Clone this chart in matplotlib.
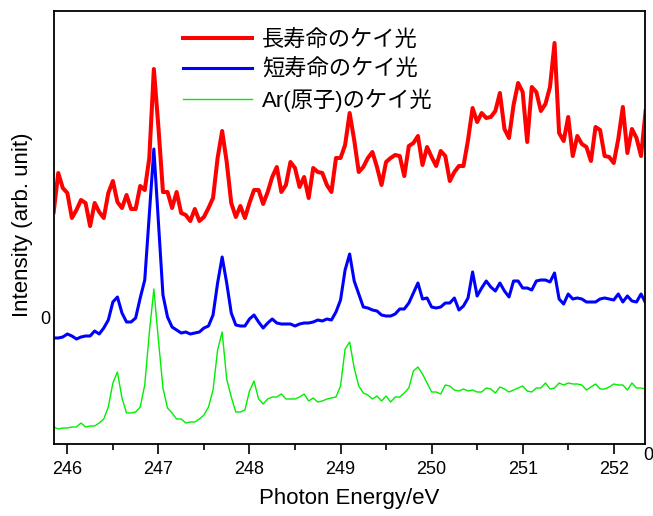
import matplotlib

matplotlib.use("Agg")

import matplotlib.pyplot as plt
from matplotlib.ticker import MultipleLocator

plt.rcParams["font.family"] = ["Liberation Sans", "Noto Sans CJK JP"]

# photon energy (eV), one sample every 0.05 eV
energy = [
    245.85, 245.90, 245.95, 246.00, 246.05, 246.10, 246.15, 246.20, 246.25, 246.30,
    246.35, 246.40, 246.45, 246.50, 246.55, 246.60, 246.65, 246.70, 246.75, 246.80,
    246.85, 246.90, 246.95, 247.00, 247.05, 247.10, 247.15, 247.20, 247.25, 247.30,
    247.35, 247.40, 247.45, 247.50, 247.55, 247.60, 247.65, 247.70, 247.75, 247.80,
    247.85, 247.90, 247.95, 248.00, 248.05, 248.10, 248.15, 248.20, 248.25, 248.30,
    248.35, 248.40, 248.45, 248.50, 248.55, 248.60, 248.65, 248.70, 248.75, 248.80,
    248.85, 248.90, 248.95, 249.00, 249.05, 249.10, 249.15, 249.20, 249.25, 249.30,
    249.35, 249.40, 249.45, 249.50, 249.55, 249.60, 249.65, 249.70, 249.75, 249.80,
    249.85, 249.90, 249.95, 250.00, 250.05, 250.10, 250.15, 250.20, 250.25, 250.30,
    250.35, 250.40, 250.45, 250.50, 250.55, 250.60, 250.65, 250.70, 250.75, 250.80,
    250.85, 250.90, 250.95, 251.00, 251.05, 251.10, 251.15, 251.20, 251.25, 251.30,
    251.35, 251.40, 251.45, 251.50, 251.55, 251.60, 251.65, 251.70, 251.75, 251.80,
    251.85, 251.90, 251.95, 252.00, 252.05, 252.10, 252.15, 252.20, 252.25, 252.30,
    252.35,
]

# intensities (arb. unit), curves are offset vertically as in the figure
long_lived = [
    1.06, 1.45, 1.30, 1.25, 1.00, 1.08, 1.18, 1.15, 0.92, 1.15,
    1.06, 1.00, 1.25, 1.37, 1.16, 1.10, 1.23, 1.09, 1.09, 1.32,
    1.28, 1.60, 2.49, 1.91, 1.26, 1.26, 1.10, 1.26, 1.05, 1.03,
    0.97, 1.09, 0.97, 1.01, 1.10, 1.20, 1.60, 1.87, 1.56, 1.15,
    1.01, 1.12, 1.00, 1.15, 1.28, 1.28, 1.14, 1.26, 1.41, 1.51,
    1.26, 1.33, 1.56, 1.50, 1.31, 1.41, 1.20, 1.50, 1.46, 1.45,
    1.33, 1.26, 1.60, 1.60, 1.73, 2.05, 1.78, 1.46, 1.51, 1.60,
    1.66, 1.51, 1.33, 1.56, 1.60, 1.63, 1.62, 1.42, 1.72, 1.75,
    1.82, 1.53, 1.71, 1.61, 1.52, 1.67, 1.62, 1.37, 1.46, 1.52,
    1.52, 1.78, 2.10, 1.96, 2.05, 2.00, 2.01, 2.07, 2.25, 1.89,
    1.80, 2.13, 2.35, 2.26, 1.76, 2.31, 2.26, 2.07, 2.14, 2.31,
    2.75, 1.85, 1.77, 2.01, 1.62, 1.82, 1.74, 1.71, 1.57, 1.91,
    1.88, 1.62, 1.61, 1.55, 1.79, 2.11, 1.65, 1.89, 1.80, 1.62,
    2.07,
]

short_lived = [
    -0.20, -0.20, -0.19, -0.16, -0.18, -0.21, -0.19, -0.18, -0.18, -0.13,
    -0.16, -0.10, -0.02, 0.16, 0.21, 0.05, -0.04, -0.04, 0.00, 0.20,
    0.38, 1.03, 1.69, 0.96, 0.23, 0.01, -0.09, -0.12, -0.15, -0.14,
    -0.16, -0.15, -0.14, -0.10, -0.08, 0.03, 0.35, 0.61, 0.35, 0.05,
    -0.07, -0.08, -0.08, -0.01, 0.03, -0.04, -0.10, -0.05, -0.01, -0.05,
    -0.06, -0.06, -0.06, -0.08, -0.06, -0.05, -0.05, -0.04, -0.02, -0.03,
    -0.01, -0.02, 0.06, 0.18, 0.48, 0.64, 0.37, 0.24, 0.11, 0.10,
    0.08, 0.07, 0.03, 0.02, 0.02, 0.04, 0.09, 0.09, 0.15, 0.25,
    0.35, 0.19, 0.20, 0.11, 0.10, 0.11, 0.15, 0.15, 0.20, 0.08,
    0.12, 0.20, 0.46, 0.22, 0.30, 0.37, 0.31, 0.27, 0.35, 0.27,
    0.21, 0.37, 0.37, 0.30, 0.30, 0.28, 0.37, 0.38, 0.38, 0.36,
    0.45, 0.19, 0.14, 0.24, 0.19, 0.20, 0.19, 0.16, 0.16, 0.16,
    0.19, 0.20, 0.19, 0.18, 0.24, 0.16, 0.22, 0.17, 0.16, 0.24,
    0.15,
]

ar_atom = [
    -1.09, -1.11, -1.10, -1.10, -1.09, -1.09, -1.05, -1.09, -1.08, -1.08,
    -1.05, -1.01, -0.89, -0.65, -0.54, -0.80, -0.95, -0.95, -0.94, -0.89,
    -0.67, -0.15, 0.29, -0.22, -0.70, -0.90, -0.95, -1.01, -1.01, -1.05,
    -1.04, -1.04, -1.01, -0.97, -0.89, -0.72, -0.32, -0.14, -0.61, -0.79,
    -0.94, -0.94, -0.92, -0.73, -0.63, -0.81, -0.86, -0.81, -0.79, -0.79,
    -0.76, -0.81, -0.81, -0.81, -0.79, -0.76, -0.83, -0.80, -0.84, -0.83,
    -0.81, -0.80, -0.79, -0.68, -0.31, -0.24, -0.50, -0.68, -0.75, -0.77,
    -0.81, -0.78, -0.83, -0.78, -0.84, -0.79, -0.79, -0.75, -0.70, -0.53,
    -0.49, -0.56, -0.65, -0.74, -0.74, -0.76, -0.67, -0.68, -0.72, -0.73,
    -0.71, -0.73, -0.72, -0.74, -0.74, -0.70, -0.71, -0.75, -0.69, -0.71,
    -0.74, -0.72, -0.70, -0.68, -0.73, -0.74, -0.70, -0.70, -0.65, -0.71,
    -0.70, -0.65, -0.67, -0.65, -0.66, -0.66, -0.67, -0.72, -0.69, -0.66,
    -0.71, -0.71, -0.69, -0.66, -0.67, -0.67, -0.72, -0.65, -0.70, -0.70,
    -0.71,
]

series_labels = ["長寿命のケイ光", "短寿命のケイ光", "Ar(原子)のケイ光"]
x_ticks = [246, 247, 248, 249, 250, 251, 252]

W, H = 653, 516

fig = plt.figure(figsize=(W / 100, H / 100), dpi=100)
ax = fig.add_axes([53.5 / W, 1 - 443.7 / H, 591.2 / W, 432.7 / H])

ax.plot(energy, long_lived, color="#ff0000", lw=2.9, label=series_labels[0])
ax.plot(energy, short_lived, color="#0000ff", lw=2.2, label=series_labels[1])
ax.plot(energy, ar_atom, color="#00ee00", lw=1.0, label=series_labels[2])

ax.set_xlim(245.848, 252.34)
ax.set_ylim(-1.257, 3.07)

ax.set_xticks(x_ticks)
ax.xaxis.set_minor_locator(MultipleLocator(0.5))
ax.tick_params(axis="x", which="major", direction="out", length=7.2, width=1.2,
               pad=5, labelsize=13)
ax.tick_params(axis="x", which="minor", direction="out", length=4.3, width=1.2)
ax.set_yticks([0])
ax.tick_params(axis="y", length=0, pad=2, labelsize=13)
for s in ax.spines.values():
    s.set_linewidth(1.3)

ax.text(1.0056, -0.028, "0", transform=ax.transAxes, ha="center", va="center",
        fontsize=13)

ax.set_xlabel("Photon Energy/eV", fontsize=16)
ax.xaxis.set_label_coords(0.5, -0.102)
ax.set_ylabel("Intensity (arb. unit)", fontsize=16)
ax.yaxis.set_label_coords(-0.035, 0.507)

ax.legend(loc="upper left", bbox_to_anchor=(183 / W, 1 - 30 / H),
          bbox_transform=fig.transFigure, frameon=False, fontsize=16,
          handlelength=3.1, handletextpad=0.45, labelspacing=0.36,
          borderpad=0, borderaxespad=0)

fig.savefig("out.png", dpi=100)
